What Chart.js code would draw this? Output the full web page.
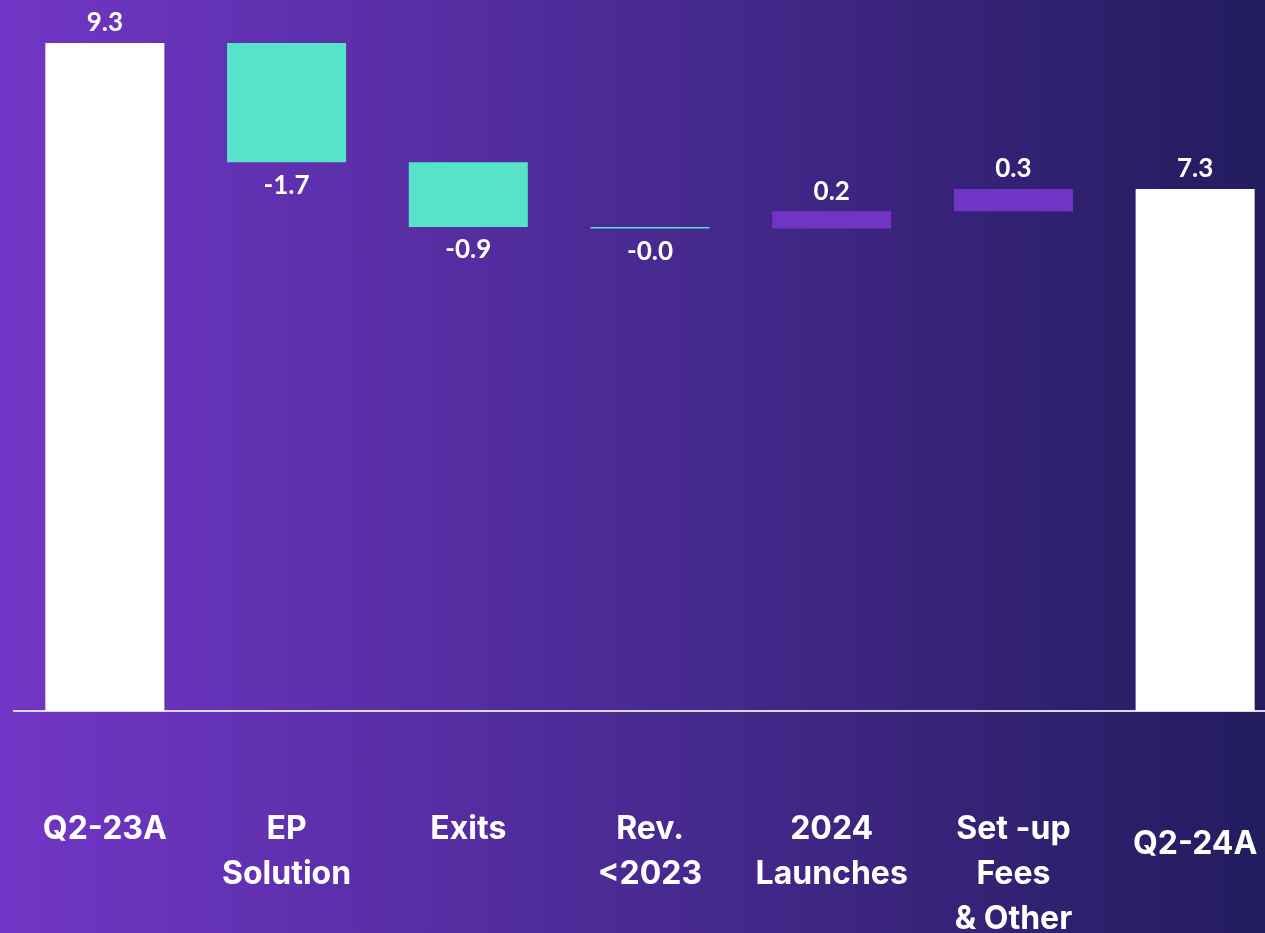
<!DOCTYPE html>
<html lang="en">
<head>
    <meta charset="UTF-8">
    <title>Bridge Q2-23A to Q2-24A</title>
    <script src="https://cdn.jsdelivr.net/npm/chart.js"></script>
    <style>
        html, body {
            margin: 0;
            padding: 0;
            width: 1265px;
            height: 933px;
            overflow: hidden;
        }

        body {
            background: linear-gradient(90deg, #7236c6 0%, #4a2a93 50%, #231c5e 100%);
        }

        #wrap {
            width: 1290px;
            height: 933px;
        }
    </style>
</head>
<body>
    <div id="wrap">
        <canvas id="bridge" width="1290" height="933"></canvas>
    </div>

    <script>
        // categorias e valores
        const categories = [
            'Q2-23A',
            ['EP', 'Solution'],
            'Exits',
            ['Rev.', '<2023'],
            ['2024', 'Launches'],
            ['Set -up', 'Fees', '& Other'],
            'Q2-24A'
        ];
        const startValue = 9.3;
        const changes = [-1.66, -0.90, -0.02, 0.24, 0.31];
        const endValue = 7.27;

        const white = '#ffffff';
        const teal = '#56e3c9';
        const purple = '#7234c4';

        // barras flutuantes montadas a partir das variações
        const ranges = [[0, startValue]];
        const shown = [startValue];
        let running = startValue;
        changes.forEach(c => {
            ranges.push([running, running + c]);
            shown.push(c);
            running += c;
        });
        ranges.push([0, endValue]);
        shown.push(endValue);

        const colors = shown.map((v, i) => {
            if (i === 0 || i === shown.length - 1) return white;
            return v < 0 ? teal : purple;
        });

        // rótulos de valor
        const valueLabels = {
            id: 'valueLabels',
            afterDatasetsDraw(chart) {
                const ctx = chart.ctx;
                const meta = chart.getDatasetMeta(0);
                ctx.save();
                ctx.fillStyle = '#ffffff';
                ctx.font = 'bold 26px Lato';
                ctx.textAlign = 'center';
                ctx.textBaseline = 'middle';
                meta.data.forEach((bar, i) => {
                    const v = shown[i];
                    const top = Math.min(bar.y, bar.base);
                    const bottom = Math.max(bar.y, bar.base);
                    const txt = v.toFixed(1);
                    if (v < 0) {
                        ctx.fillText(txt, bar.x, bottom + 23);
                    } else {
                        ctx.fillText(txt, bar.x, top - 20);
                    }
                });
                ctx.restore();
            }
        };

        const ctx = document.getElementById('bridge').getContext('2d');
        new Chart(ctx, {
            type: 'bar',
            data: {
                labels: categories,
                datasets: [{
                    data: ranges,
                    backgroundColor: colors,
                    borderWidth: 0,
                    barPercentage: 0.655,
                    categoryPercentage: 1
                }]
            },
            options: {
                responsive: false,
                animation: false,
                layout: {
                    padding: { left: 14, right: 4, top: 0, bottom: 0 }
                },
                plugins: {
                    legend: { display: false },
                    tooltip: { enabled: false }
                },
                scales: {
                    x: {
                        grid: { display: false, drawTicks: false },
                        border: { display: true, color: '#dcd6ee', width: 2 },
                        afterFit(scale) {
                            scale.height = 222;
                            scale.paddingLeft = 0;
                            scale.paddingRight = 0;
                        },
                        ticks: {
                            color: '#ffffff',
                            padding: 96,
                            maxRotation: 0,
                            autoSkip: false,
                            font: (c) => ({
                                family: 'Inter',
                                size: 32,
                                weight: 'bold',
                                lineHeight: c.index === categories.length - 1 ? '75px' : '45px'
                            })
                        }
                    },
                    y: {
                        display: false,
                        min: 0,
                        max: 9.9
                    }
                }
            },
            plugins: [valueLabels]
        });
    </script>
</body>
</html>
